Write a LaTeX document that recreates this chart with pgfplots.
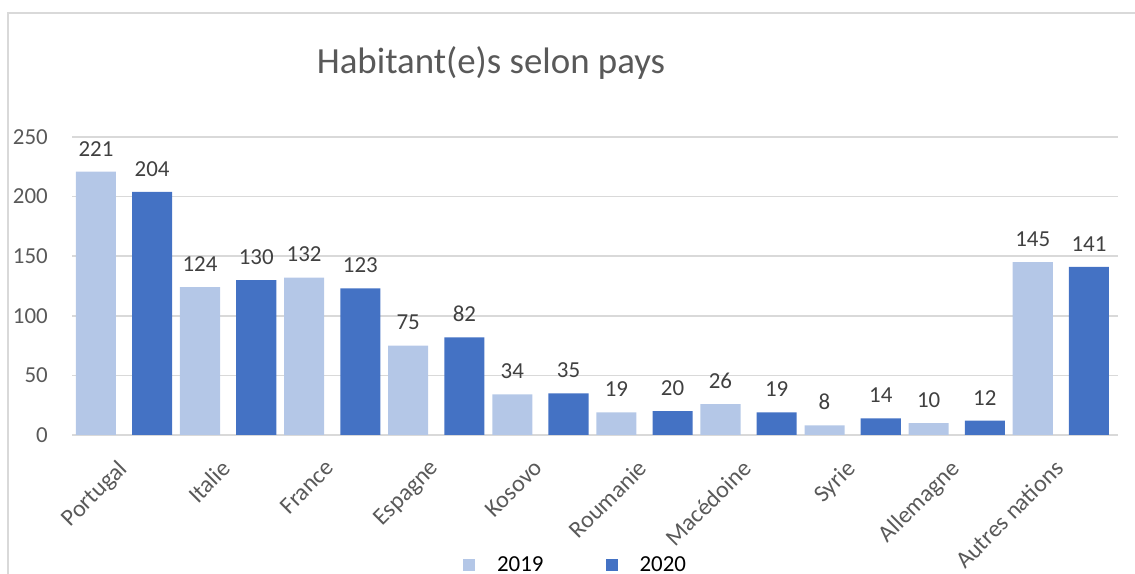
\documentclass[border=0pt]{standalone}
\usepackage{pgfplots}
\pgfplotsset{compat=1.18}
\usepackage{fontspec}
\setmainfont{Carlito}
\definecolor{lblue}{HTML}{B4C7E7}
\definecolor{dblue}{HTML}{4472C4}
\definecolor{tgray}{HTML}{595959}
\definecolor{dgray}{HTML}{404040}
\definecolor{ggray}{HTML}{D9D9D9}
\begin{document}
\begin{tikzpicture}
\useasboundingbox (0,0) rectangle (1135bp,574bp);
\draw[ggray, line width=1.5bp] (8bp,-10bp) -- (8bp,561bp) -- (1145bp,561bp);
\node[anchor=base, text=tgray, font=\fontsize{37}{42}\selectfont] at (491bp,500bp) {Habitant(e)s selon pays};
\begin{axis}[
  at={(72bp,139bp)}, anchor=south west,
  scale only axis, width=1046bp, height=298bp,
  xmin=-0.5, xmax=9.55, ymin=0, ymax=250,
  ytick={0,50,...,250},
  xtick={0,...,9},
  xticklabels={Portugal,Italie,France,Espagne,Kosovo,Roumanie,Mac\'edoine,Syrie,Allemagne,Autres nations},
  axis line style={draw=none},
  major tick length=0pt,
  ymajorgrids, grid style={ggray, line width=1.5bp},
  /pgf/number format/assume math mode=true,
  tick label style={text=tgray, font=\fontsize{23}{27}\selectfont},
  yticklabel style={anchor=east, inner sep=0pt, xshift=-24bp},
  xticklabel style={rotate=45, anchor=north east, inner sep=0pt, font=\fontsize{24}{28}\selectfont, xshift=-22bp, yshift=-11bp},
  ybar, bar width=0.385,
  nodes near coords,
  every node near coord/.append style={text=dgray, font=\fontsize{23}{27}\selectfont, yshift=12bp},
  legend columns=2,
  legend style={draw=none, fill=none, at={(0.4804,-0.4362)}, anchor=center,
    inner sep=0pt, nodes={inner sep=0pt},
    font=\fontsize{23}{27}\selectfont, text=black,
    /tikz/every odd column/.append style={column sep=22bp},
    /tikz/every even column/.append style={column sep=62bp}},
  legend image code/.code={\fill[#1] (0bp,-6bp) rectangle (12bp,6bp);},
]
\addplot[draw=none, fill=lblue, bar shift=-0.27] coordinates {(0,221) (1,124) (2,132) (3,75) (4,34) (5,19) (6,26) (7,8) (8,10) (9,145)};
\addplot[draw=none, fill=dblue, bar shift=0.27] coordinates {(0,204) (1,130) (2,123) (3,82) (4,35) (5,20) (6,19) (7,14) (8,12) (9,141)};
\legend{2019,2020}
\end{axis}
\end{tikzpicture}
\end{document}
